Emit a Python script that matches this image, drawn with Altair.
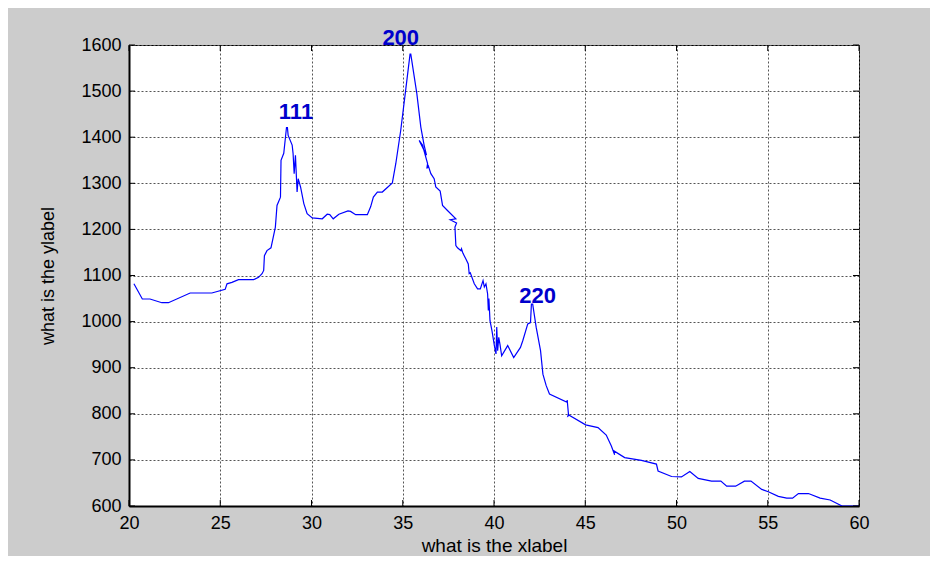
import altair as alt
import pandas as pd

# ---- data ----
xs = [20.27, 20.73, 21.15, 21.8, 22.16, 23.35, 24.54, 25.27, 25.37, 25.64, 26.0, 26.83, 27.1, 27.29,
      27.38, 27.42, 27.56, 27.78, 28.02, 28.11, 28.30, 28.33, 28.48, 28.63, 28.68, 28.72, 28.94, 28.99,
      29.05, 29.12, 29.21, 29.27, 29.40, 29.58, 29.76, 30.04, 30.59, 30.86, 31.0, 31.19, 31.5, 32.0,
      32.14, 32.42, 33.06, 33.24, 33.39, 33.61, 33.88, 34.43, 34.62, 34.89, 35.16, 35.40, 35.44, 35.77,
      35.99, 36.17, 36.30, 35.90, 36.08, 36.36, 36.32, 36.40, 36.54, 36.72, 36.81, 37.05, 37.18, 37.45,
      37.91, 37.60, 37.95, 37.86, 37.91, 38.0, 38.19, 38.22, 38.30, 38.46, 38.59, 38.64, 38.70, 38.92,
      39.10, 39.25, 39.40, 39.47, 39.56, 39.65, 39.69, 39.72, 39.78, 39.89, 40.02, 40.11, 40.15, 40.20,
      40.26, 40.33, 40.42, 40.75, 41.08, 41.45, 41.58, 41.85, 42.0, 42.05, 42.12, 42.31, 42.55, 42.68,
      42.86, 43.04, 44.01, 44.01, 44.08, 44.05, 44.12, 45.02, 45.70, 46.15, 46.43, 46.61, 46.55, 47.16,
      48.08, 48.90, 48.99, 49.73, 50.27, 50.73, 51.19, 51.92, 52.43, 52.75, 53.24, 53.72, 54.08, 54.67,
      55.03, 55.58, 56.04, 56.36, 56.68, 57.23, 57.87, 58.42, 59.07, 60.0]
ys = [1082, 1049, 1049, 1041, 1041, 1062, 1062, 1070, 1082, 1085, 1091, 1091, 1096, 1104,
      1111, 1143, 1154, 1160, 1205, 1252, 1270, 1350, 1365, 1421, 1421, 1404, 1383, 1365,
      1321, 1361, 1281, 1310, 1292, 1256, 1234, 1225, 1223, 1233, 1232, 1223, 1233, 1240,
      1239, 1232, 1232, 1249, 1270, 1281, 1281, 1301, 1343, 1415, 1502, 1580, 1580, 1495,
      1422, 1383, 1361, 1393, 1383, 1343, 1332, 1338, 1321, 1310, 1292, 1283, 1252, 1241,
      1223, 1221, 1214, 1205, 1165, 1160, 1154, 1158, 1148, 1136, 1125, 1104, 1106, 1082,
      1071, 1071, 1089, 1075, 1082, 1060, 1024, 1050, 1002, 980, 948, 930, 988, 937,
      966, 950, 926, 948, 922, 944, 959, 995, 998, 1038, 1038, 988, 937, 886,
      861, 843, 825, 830, 799, 795, 797, 776, 770, 754, 730, 711, 720, 705,
      699, 691, 676, 664, 663, 675, 660, 654, 654, 643, 643, 654, 654, 636,
      631, 621, 617, 617, 627, 627, 617, 613, 600, 600]

peak_labels = ["111", "200", "220"]
peak_x = [29.15, 34.89, 42.39]
peak_y = [1439, 1599, 1041]

x_ticks = [20, 25, 30, 35, 40, 45, 50, 55, 60]
y_ticks = [600, 700, 800, 900, 1000, 1100, 1200, 1300, 1400, 1500, 1600]

W, H = 730, 461
FONT = "Liberation Sans"

line_df = pd.DataFrame({"x": xs, "y": ys, "i": list(range(len(xs)))})
lab_df = pd.DataFrame({"x": peak_x, "y": peak_y, "t": peak_labels})
xt_df = pd.DataFrame({"x": x_ticks})
yt_df = pd.DataFrame({"y": y_ticks})

xscale = alt.Scale(domain=[20, 60], nice=False, zero=False)
yscale = alt.Scale(domain=[600, 1600], nice=False, zero=False)

xaxis = alt.Axis(values=x_ticks, format="d", ticks=False, tickSize=0, labelPadding=8,
                 labelFontSize=18, labelFont=FONT, labelColor="black", labelFlush=False,
                 grid=True, gridDash=[2, 2], gridColor="#555555", gridWidth=1,
                 domainColor="black", domainWidth=2,
                 title="what is the xlabel", titleFont=FONT, titleFontSize=19,
                 titleFontWeight="normal", titleColor="black",
                 titleX=W / 2, titleY=45, titleBaseline="alphabetic", titleAlign="center")
yaxis = alt.Axis(values=y_ticks, format="d", ticks=False, tickSize=0, labelPadding=8,
                 labelFontSize=18, labelFont=FONT, labelColor="black", labelFlush=False,
                 grid=True, gridDash=[2, 2], gridColor="#555555", gridWidth=1,
                 domainColor="black", domainWidth=2,
                 title="what is the ylabel", titleFont=FONT, titleFontSize=18,
                 titleFontWeight="normal", titleColor="black", titleAngle=270,
                 titleX=-76, titleY=H / 2, titleBaseline="alphabetic", titleAlign="center")

line = alt.Chart(line_df).mark_line(color="#0000FF", strokeWidth=1.2, clip=True).encode(
    x=alt.X("x:Q", scale=xscale, axis=xaxis),
    y=alt.Y("y:Q", scale=yscale, axis=yaxis),
    order="i:Q",
)

labels = alt.Chart(lab_df).mark_text(font=FONT, fontSize=22, fontWeight="bold", color="#0000CC",
                                     align="center", baseline="alphabetic").encode(
    x=alt.X("x:Q", scale=xscale), y=alt.Y("y:Q", scale=yscale), text="t:N")

TK = 6
tick_bottom = alt.Chart(xt_df).mark_rule(color="black", strokeWidth=1).encode(
    x=alt.X("x:Q", scale=xscale), y=alt.value(H), y2=alt.value(H - TK))
tick_top = alt.Chart(xt_df).mark_rule(color="black", strokeWidth=1).encode(
    x=alt.X("x:Q", scale=xscale), y=alt.value(0), y2=alt.value(TK))
tick_left = alt.Chart(yt_df).mark_rule(color="black", strokeWidth=1).encode(
    y=alt.Y("y:Q", scale=yscale), x=alt.value(0), x2=alt.value(TK))
tick_right = alt.Chart(yt_df).mark_rule(color="black", strokeWidth=1).encode(
    y=alt.Y("y:Q", scale=yscale), x=alt.value(W), x2=alt.value(W - TK))

chart = alt.layer(line, tick_bottom, tick_top, tick_left, tick_right, labels).properties(
    width=W, height=H,
    autosize=alt.AutoSizeParams(type="none"),
    padding={"left": 121, "top": 37, "right": 71, "bottom": 50},
    background="#CCCCCC",
).configure_view(fill="white", stroke="black", strokeWidth=1)

chart.save("out.html", embed_options={"renderer": "svg", "actions": False})
